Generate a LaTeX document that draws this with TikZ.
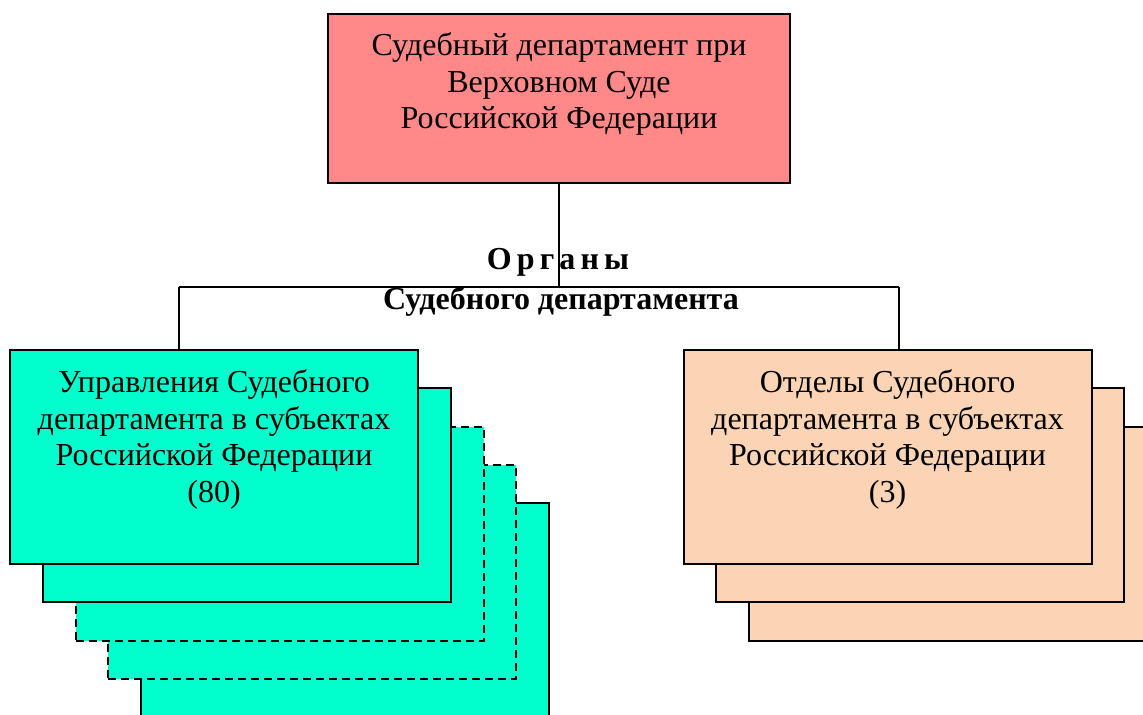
\documentclass[tikz,border=0pt]{standalone}
\usepackage{fontspec}
\setmainfont{Liberation Serif}
\usetikzlibrary{positioning}

\definecolor{sdred}{RGB}{255,136,136}
\definecolor{sdcyan}{RGB}{0,255,204}
\definecolor{sdpeach}{RGB}{250,212,180}

\tikzset{
  orgbox/.style={draw=black, line width=1pt, minimum width=204pt, minimum height=107pt, inner sep=0pt},
  dashbox/.style={dash pattern=on 4pt off 2.5pt},
  boxtext/.style={align=center, inner sep=0pt, font=\fontsize{16}{18.4}\selectfont},
  boldtext/.style={inner sep=0pt, font=\fontsize{16}{18.4}\selectfont\bfseries},
  link/.style={draw=black, line width=1pt}
}

\begin{document}
\begin{tikzpicture}[x=0.5pt, y=-0.5pt]
  % Frame
  \useasboundingbox (0,0) rectangle (1143,715);
  \clip (0,0) rectangle (1143,715);

  % Top box
  \node[orgbox, fill=sdred, minimum width=231pt, minimum height=84.5pt] (dep) at (559,98.5) {};
  \node[boxtext, below=9.5pt of dep.north] (deptext) {Судебный департамент при\\Верховном Суде\\Российской Федерации};

  % Left stack (back to front)
  \foreach \i/\lstyle in {4/solid, 3/dashbox, 2/dashbox, 1/solid} {
    \node[orgbox, fill=sdcyan, \lstyle] (upr\i) at ({214+32.75*\i},{457+38.25*\i}) {};
  }
  \node[orgbox, fill=sdcyan] (upr) at (214,457) {};
  \node[boxtext, below=10pt of upr.north] (uprtext) {Управления Судебного\\департамента в субъектах\\Российской Федерации\\(80)};

  % Right stack (back to front)
  \foreach \i in {2,1} {
    \node[orgbox, fill=sdpeach] (otd\i) at ({887.5+32.75*\i},{457+38.25*\i}) {};
  }
  \node[orgbox, fill=sdpeach] (otd) at (887.5,457) {};
  \node[boxtext, below=10pt of otd.north] (otdtext) {Отделы Судебного\\департамента в субъектах\\Российской Федерации\\(3)};

  % Connectors
  \coordinate (fork) at (559,287);
  \coordinate (forkl) at (179,287);
  \coordinate (forkr) at (899,287);
  \draw[link] (dep.south) -- (fork);
  \draw[link] (forkl) -- (forkr);
  \draw[link] (forkl) -- (forkl |- upr.north);
  \draw[link] (forkr) -- (forkr |- otd.north);

  % Labels
  \node[boldtext] (organy) at (558,262) {{\spaceskip=0.16em О р г а н ы}};
  \node[boldtext] (sdorgan) at (561,302) {Судебного департамента};
\end{tikzpicture}
\end{document}
